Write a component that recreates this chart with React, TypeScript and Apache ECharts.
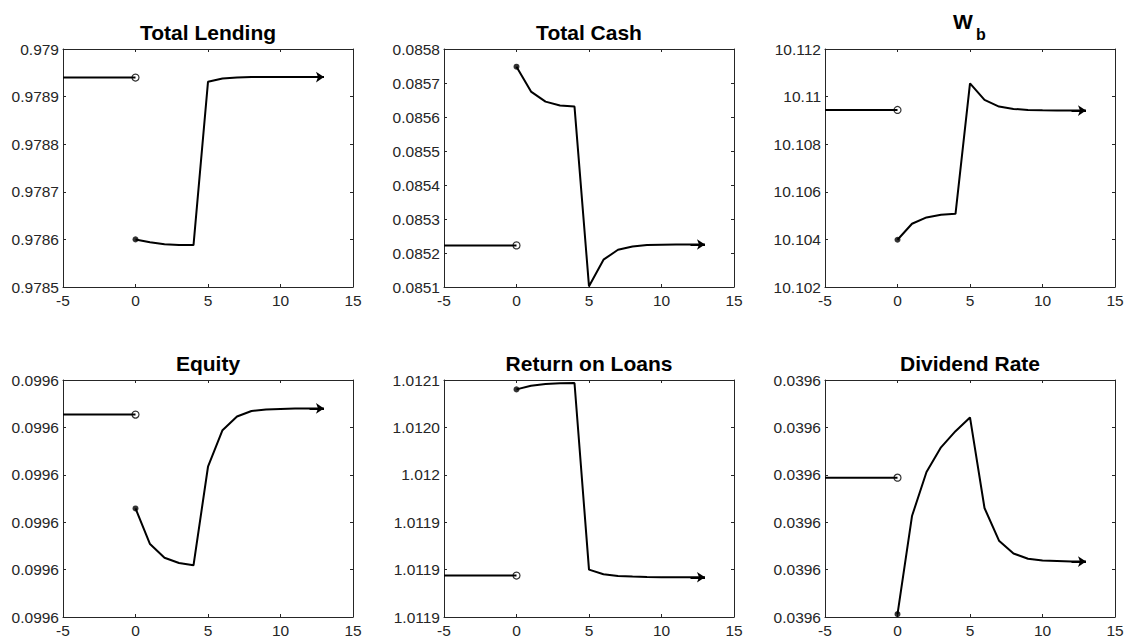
import { useEffect, useRef } from "react";
import * as echarts from "echarts";

// Horizon (periods) of the impulse responses and the pre-shock stretch
const xTickLabels = ["-5", "0", "5", "10", "15"];
const preX = [-5, 0];
const periods = [0, 1, 2, 3, 4, 5, 6, 7, 8, 9, 10, 11, 12, 13];

// Total Lending
const lendingSteady = 0.97894;
const lendingPath = [
  0.9786, 0.978594, 0.97859, 0.978588, 0.978588, 0.978931, 0.978938,
  0.97894, 0.978941, 0.978941, 0.978941, 0.978941, 0.978941, 0.978941,
];
const lendingTicks = ["0.9785", "0.9786", "0.9787", "0.9788", "0.9789", "0.979"];

// Total Cash
const cashSteady = 0.0852224;
const cashPath = [
  0.085748, 0.0856747, 0.0856453, 0.0856336, 0.0856306, 0.085102, 0.0851803,
  0.0852097, 0.0852194, 0.0852234, 0.0852245, 0.0852248, 0.085225, 0.085225,
];
const cashTicks = ["0.0851", "0.0852", "0.0853", "0.0854", "0.0855", "0.0856", "0.0857", "0.0858"];

// W_b
const wbSteady = 10.10944;
const wbPath = [
  10.103986, 10.104657, 10.104923, 10.105035, 10.105077, 10.110559, 10.10986,
  10.10958, 10.109483, 10.10944, 10.109425, 10.109418, 10.109415, 10.109413,
];
const wbTicks = ["10.102", "10.104", "10.106", "10.108", "10.11", "10.112"];

// Equity
const equitySteady = 0.0996227;
const equityPath = [
  0.0996029, 0.0995954, 0.0995925, 0.0995914, 0.0995909, 0.0996117, 0.0996194,
  0.0996223, 0.09962345, 0.0996238, 0.0996239, 0.099624, 0.099624, 0.099624,
];
const equityTicks = ["0.0996", "0.0996", "0.0996", "0.0996", "0.0996", "0.0996"];

// Return on Loans
const loansSteady = 1.0118937;
const loansPath = [
  1.0120901, 1.012094, 1.0120958, 1.0120965, 1.0120968, 1.0119, 1.0118951,
  1.0118933, 1.0118926, 1.0118921, 1.011892, 1.0118919, 1.0118919, 1.0118919,
];
const loansTicks = ["1.0119", "1.0119", "1.0119", "1.012", "1.0120", "1.0121"];

// Dividend Rate
const dividendSteady = 0.0396094;
const dividendPath = [
  0.0395806, 0.0396013, 0.0396106, 0.0396158, 0.0396192, 0.0396221, 0.039603,
  0.0395961, 0.0395934, 0.0395923, 0.0395919, 0.0395918, 0.0395917, 0.0395917,
];
const dividendTicks = ["0.0396", "0.0396", "0.0396", "0.0396", "0.0396", "0.0396"];

type Panel = {
  title: string;
  steady: number;
  path: number[];
  ticks: string[];
  yMin: number;
  yStep: number;
};

const panels: Panel[] = [
  { title: "Total Lending", steady: lendingSteady, path: lendingPath, ticks: lendingTicks, yMin: 0.9785, yStep: 0.0001 },
  { title: "Total Cash", steady: cashSteady, path: cashPath, ticks: cashTicks, yMin: 0.0851, yStep: 0.0001 },
  { title: "W_b", steady: wbSteady, path: wbPath, ticks: wbTicks, yMin: 10.102, yStep: 0.002 },
  { title: "Equity", steady: equitySteady, path: equityPath, ticks: equityTicks, yMin: 0.09958, yStep: 0.00001 },
  { title: "Return on Loans", steady: loansSteady, path: loansPath, ticks: loansTicks, yMin: 1.01185, yStep: 0.00005 },
  { title: "Dividend Rate", steady: dividendSteady, path: dividendPath, ticks: dividendTicks, yMin: 0.03958, yStep: 0.00001 },
];

const FONT = "'Liberation Sans', Arial, Helvetica, sans-serif";
const AXIS = "#262626";
const colLeft = [63, 444, 825];
const rowTop = [49, 380];
const rowHeight = [238, 237];
const plotWidth = 290;

function buildOption() {
  const grid: any[] = [];
  const xAxis: any[] = [];
  const yAxis: any[] = [];
  const series: any[] = [];
  const graphic: any[] = [];

  const lineStyle = { color: AXIS, width: 1 };
  const tick = { show: true, inside: true, length: 3, lineStyle };

  panels.forEach((p, i) => {
    const col = i % 3;
    const row = Math.floor(i / 3);
    grid.push({
      left: colLeft[col],
      top: rowTop[row],
      width: plotWidth,
      height: rowHeight[row],
      show: false,
    });

    const yMax = p.yMin + p.yStep * (p.ticks.length - 1);
    const xBase = {
      type: "value",
      gridIndex: i,
      min: -5,
      max: 15,
      interval: 5,
      splitLine: { show: false },
      axisLine: { show: true, onZero: false, lineStyle },
      axisTick: tick,
    };
    xAxis.push({
      ...xBase,
      position: "bottom",
      axisLabel: {
        color: AXIS,
        fontFamily: FONT,
        fontSize: 15.5,
        margin: 5,
        formatter: (v: number) => xTickLabels[Math.round((v + 5) / 5)] ?? "",
      },
    });
    xAxis.push({ ...xBase, position: "top", axisLabel: { show: false } });

    const yBase = {
      type: "value",
      gridIndex: i,
      min: p.yMin,
      max: yMax,
      interval: p.yStep,
      splitLine: { show: false },
      axisLine: { show: true, onZero: false, lineStyle },
      axisTick: tick,
    };
    yAxis.push({
      ...yBase,
      position: "left",
      axisLabel: {
        color: AXIS,
        fontFamily: FONT,
        fontSize: 15.5,
        margin: 4,
        formatter: (v: number) => p.ticks[Math.round((v - p.yMin) / p.yStep)] ?? "",
      },
    });
    yAxis.push({ ...yBase, position: "right", axisLabel: { show: false } });

    const axes = { xAxisIndex: 2 * i, yAxisIndex: 2 * i };
    const black = { color: "#000", width: 2 };

    // pre-shock steady state
    series.push({
      type: "line",
      ...axes,
      data: preX.map((x) => [x, p.steady]),
      showSymbol: false,
      lineStyle: black,
      silent: true,
    });
    // response path
    series.push({
      type: "line",
      ...axes,
      data: periods.map((x, k) => [x, p.path[k]]),
      showSymbol: false,
      lineStyle: black,
      silent: true,
    });
    // arrowhead on the last segment
    const n = periods.length;
    series.push({
      type: "lines",
      coordinateSystem: "cartesian2d",
      ...axes,
      symbol: ["none", "arrow"],
      symbolSize: 8,
      lineStyle: { color: "#000", width: 2, opacity: 1 },
      data: [
        {
          coords: [
            [periods[n - 2], p.path[n - 2]],
            [periods[n - 1], p.path[n - 1]],
          ],
        },
      ],
      silent: true,
    });
    // filled dot at the impact period
    series.push({
      type: "scatter",
      ...axes,
      data: [[periods[0], p.path[0]]],
      symbol: "circle",
      symbolSize: 6,
      itemStyle: { color: "#000" },
      silent: true,
    });
    // open circle at the end of the pre-shock line
    series.push({
      type: "scatter",
      ...axes,
      data: [[preX[1], p.steady]],
      symbol: "circle",
      symbolSize: 7,
      itemStyle: { color: "#fff", borderColor: "#000", borderWidth: 1.2 },
      silent: true,
    });

    const cx = colLeft[col] + plotWidth / 2;
    if (p.title === "W_b") {
      graphic.push({
        type: "text",
        x: cx - 7,
        y: rowTop[row] - 28,
        style: { text: "W", font: `bold 21px ${FONT}`, fill: "#000", textAlign: "center", textVerticalAlign: "middle" },
      });
      graphic.push({
        type: "text",
        x: cx + 11,
        y: rowTop[row] - 15,
        style: { text: "b", font: `bold 16px ${FONT}`, fill: "#000", textAlign: "center", textVerticalAlign: "middle" },
      });
    } else {
      graphic.push({
        type: "text",
        x: cx,
        y: rowTop[row] - 17,
        style: { text: p.title, font: `bold 21px ${FONT}`, fill: "#000", textAlign: "center", textVerticalAlign: "middle" },
      });
    }
  });

  return {
    animation: false,
    backgroundColor: "#fff",
    grid,
    xAxis,
    yAxis,
    series,
    graphic,
  };
}

export default function App() {
  const ref = useRef<HTMLDivElement>(null);
  useEffect(() => {
    if (!ref.current) return;
    const chart = echarts.init(ref.current, undefined, { renderer: "svg" });
    chart.setOption(buildOption() as any);
    return () => chart.dispose();
  }, []);
  return (
    <div
      ref={ref}
      style={{ position: "fixed", left: 0, top: 0, width: 1128, height: 639, background: "#fff" }}
    />
  );
}
